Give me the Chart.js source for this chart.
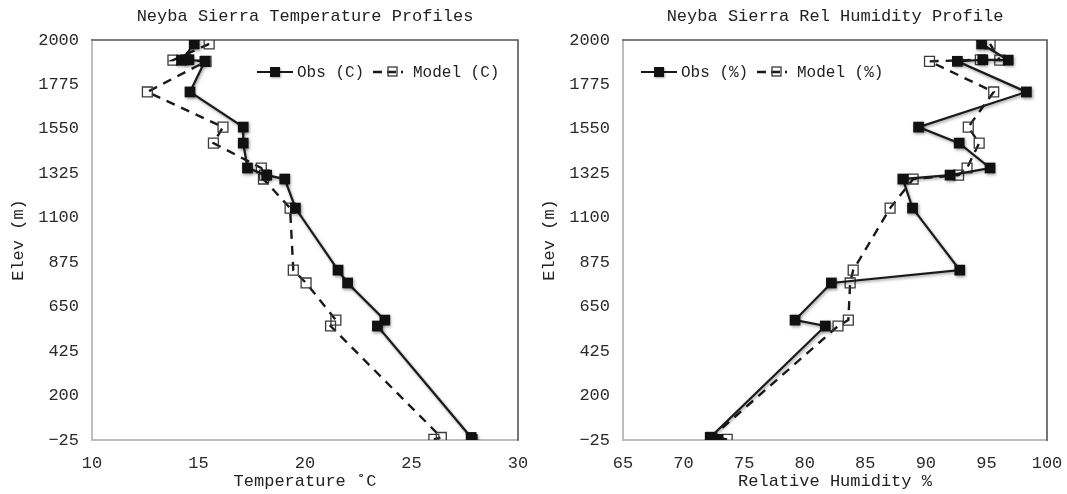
<!DOCTYPE html>
<html>
<head>
<meta charset="utf-8">
<script src="https://cdn.jsdelivr.net/npm/chart.js@4.4.1/dist/chart.umd.min.js"></script>
<style>
  html, body { margin: 0; padding: 0; background: #fff; }
  body { width: 1067px; height: 494px; position: relative; overflow: hidden; }
  .panel { position: absolute; top: 0; }
  canvas { display: block; }
</style>
</head>
<body>
<div class="panel" style="left:0px"><canvas id="tempChart" width="533" height="494"></canvas></div>
<div class="panel" style="left:531px"><canvas id="rhChart" width="536" height="494"></canvas></div>
<script>
// Station elevations (m), in the order the profile is traced
const elevations = [1980, 1898, 1900, 1892, 1737, 1559, 1478, 1352, 1316, 1296, 1149, 835, 770, 582, 552, -12, -22];

// Air temperature (°C)
const tempObs   = [14.8, 14.2, 14.55, 15.3, 14.6, 17.1, 17.1, 17.3, 18.2, 19.05, 19.55, 21.55, 22.0, 23.75, 23.4, 27.8, 27.85];
const tempModel = [15.5, 13.8, 14.4, 15.35, 12.6, 16.15, 15.7, 17.95, 18.1, 18.05, 19.3, 19.45, 20.05, 21.45, 21.2, 26.4, 26.05];

// Relative humidity (%)
const rhObs   = [94.6, 96.8, 94.7, 92.6, 98.3, 89.4, 92.75, 95.3, 92.0, 88.1, 88.9, 92.8, 82.2, 79.2, 81.7, 72.2, 72.85];
const rhModel = [95.3, 96.1, 94.5, 90.3, 95.6, 93.5, 94.4, 93.4, 92.7, 88.95, 87.05, 84.0, 83.75, 83.6, 82.75, 72.3, 73.6];

// Axis ticks
const elevTicks = [-25, 200, 425, 650, 875, 1100, 1325, 1550, 1775, 2000];
const tempTicks = [10, 15, 20, 25, 30];
const rhTicks   = [65, 70, 75, 80, 85, 90, 95, 100];

const FONT = "'Liberation Mono', 'DejaVu Sans Mono', monospace";
const INK = '#1a1a1a';

function toPoints(xs) {
  return xs.map((v, i) => ({ x: v, y: elevations[i] }));
}

// Plot frame: light left/bottom edges, darker top/right edges
const framePlugin = {
  id: 'frame',
  beforeDatasetsDraw(chart) {
    const { ctx, chartArea: a } = chart;
    ctx.save();
    ctx.lineCap = 'square';
    ctx.strokeStyle = '#bdbdbd';
    ctx.lineWidth = 2;
    ctx.beginPath();
    ctx.moveTo(a.left, a.top); ctx.lineTo(a.left, a.bottom); ctx.lineTo(a.right, a.bottom);
    ctx.stroke();
    ctx.strokeStyle = '#555';
    ctx.lineWidth = 1.6;
    ctx.beginPath();
    ctx.moveTo(a.left, a.top); ctx.lineTo(a.right, a.top); ctx.lineTo(a.right, a.bottom);
    ctx.stroke();
    ctx.restore();
  }
};

// Soft drop shadow under the observed series
const shadowPlugin = {
  id: 'markerShadow',
  beforeDatasetDraw(chart, args) {
    const ctx = chart.ctx;
    ctx.save();
    if (args.index === 0) {
      ctx.shadowColor = 'rgba(0,0,0,0.4)';
      ctx.shadowBlur = 3;
      ctx.shadowOffsetX = 1;
      ctx.shadowOffsetY = 1.5;
    }
  },
  afterDatasetDraw(chart) {
    chart.ctx.restore();
  }
};

// Inline legend inside the plot: line sample with marker, then label
const inlineLegendPlugin = {
  id: 'inlineLegend',
  afterDatasetsDraw(chart, args, opts) {
    const { ctx, chartArea: a } = chart;
    const ds = chart.data.datasets;
    const x0 = a.left + opts.x;
    const y0 = a.top + opts.y;
    ctx.save();
    ctx.font = '16px ' + FONT;
    ctx.textBaseline = 'middle';
    ctx.fillStyle = '#222';

    // observed
    ctx.save();
    ctx.strokeStyle = ds[0].borderColor;
    ctx.lineWidth = ds[0].borderWidth;
    ctx.beginPath(); ctx.moveTo(x0, y0); ctx.lineTo(x0 + 36, y0); ctx.stroke();
    ctx.shadowColor = 'rgba(0,0,0,0.35)'; ctx.shadowBlur = 2; ctx.shadowOffsetX = 1; ctx.shadowOffsetY = 1;
    ctx.fillStyle = ds[0].pointBackgroundColor;
    ctx.fillRect(x0 + 13, y0 - 5, 10, 10);
    ctx.restore();
    ctx.fillText(ds[0].label, x0 + 40, y0 + 1);

    // model
    const mx = x0 + 116;
    ctx.save();
    ctx.strokeStyle = ds[1].borderColor;
    ctx.lineWidth = ds[1].borderWidth;
    ctx.setLineDash([9, 5]);
    ctx.beginPath(); ctx.moveTo(mx, y0); ctx.lineTo(mx + 30, y0); ctx.stroke();
    ctx.setLineDash([]);
    ctx.strokeStyle = ds[1].pointBorderColor;
    ctx.lineWidth = ds[1].pointBorderWidth;
    ctx.strokeRect(mx + 15, y0 - 5, 9, 9);
    ctx.restore();
    ctx.fillText(ds[1].label, mx + 40, y0 + 1);
    ctx.restore();
  }
};

function makeChart(id, cfg) {
  return new Chart(document.getElementById(id), {
    type: 'scatter',
    data: {
      datasets: [
        {
          label: cfg.obsLabel,
          data: toPoints(cfg.obs),
          showLine: true,
          borderColor: INK,
          borderWidth: 2.2,
          pointStyle: 'rect',
          pointRadius: 7.6,
          pointHoverRadius: 7.6,
          pointBackgroundColor: '#111',
          pointBorderColor: '#111',
          pointBorderWidth: 0
        },
        {
          label: cfg.modelLabel,
          data: toPoints(cfg.model),
          showLine: true,
          borderColor: INK,
          borderWidth: 2.4,
          borderDash: [9, 7],
          pointStyle: 'rect',
          pointRadius: 7,
          pointHoverRadius: 7,
          pointBackgroundColor: 'rgba(255,255,255,0)',
          pointBorderColor: '#3a3a3a',
          pointBorderWidth: 1.3
        }
      ]
    },
    options: {
      responsive: false,
      animation: false,
      devicePixelRatio: 1,
      events: [],
      layout: { padding: { left: 0, right: cfg.padRight, top: 0, bottom: 0 } },
      plugins: {
        legend: { display: false },
        tooltip: { enabled: false },
        title: {
          display: true,
          text: cfg.title,
          fullSize: false,
          color: '#222',
          font: { family: FONT, size: 17, weight: 'normal', lineHeight: 1.2 },
          padding: { top: 6, bottom: 13.6 }
        },
        inlineLegend: { x: cfg.legendX, y: 32 }
      },
      scales: {
        x: {
          type: 'linear',
          min: cfg.xTicks[0],
          max: cfg.xTicks[cfg.xTicks.length - 1],
          afterBuildTicks: s => { s.ticks = cfg.xTicks.map(v => ({ value: v })); },
          afterFit: s => { s.height = 54; s.paddingLeft = 0; s.paddingRight = 0; },
          grid: { display: false, drawTicks: false },
          border: { display: false },
          ticks: {
            color: '#2a2a2a',
            padding: 13,
            maxRotation: 0,
            font: { family: FONT, size: 17 }
          },
          title: {
            display: true,
            text: cfg.xLabel,
            color: '#222',
            font: { family: FONT, size: 17, lineHeight: 1.2 },
            padding: { top: 0, bottom: 2 }
          }
        },
        y: {
          type: 'linear',
          min: elevTicks[0],
          max: elevTicks[elevTicks.length - 1],
          afterBuildTicks: s => { s.ticks = elevTicks.map(v => ({ value: v })); },
          afterFit: s => { s.width = 92; s.paddingTop = 0; s.paddingBottom = 0; },
          grid: { display: false, drawTicks: false },
          border: { display: false },
          ticks: {
            color: '#2a2a2a',
            padding: 13,
            font: { family: FONT, size: 17 },
            callback: v => (v < 0 ? '\u2212' + Math.abs(v) : String(v))
          },
          title: {
            display: true,
            text: 'Elev (m)',
            color: '#222',
            font: { family: FONT, size: 17, lineHeight: 1.2 },
            padding: { top: 8, bottom: 0 }
          }
        }
      }
    },
    plugins: [framePlugin, shadowPlugin, inlineLegendPlugin]
  });
}

makeChart('tempChart', {
  title: 'Neyba Sierra Temperature Profiles',
  xLabel: 'Temperature \u02DAC',
  xTicks: tempTicks,
  obs: tempObs,
  model: tempModel,
  obsLabel: 'Obs (C)',
  modelLabel: 'Model (C)',
  legendX: 165,
  padRight: 15
});

makeChart('rhChart', {
  title: 'Neyba Sierra Rel Humidity Profile',
  xLabel: 'Relative Humidity %',
  xTicks: rhTicks,
  obs: rhObs,
  model: rhModel,
  obsLabel: 'Obs (%)',
  modelLabel: 'Model (%)',
  legendX: 18,
  padRight: 20
});
</script>
</body>
</html>
